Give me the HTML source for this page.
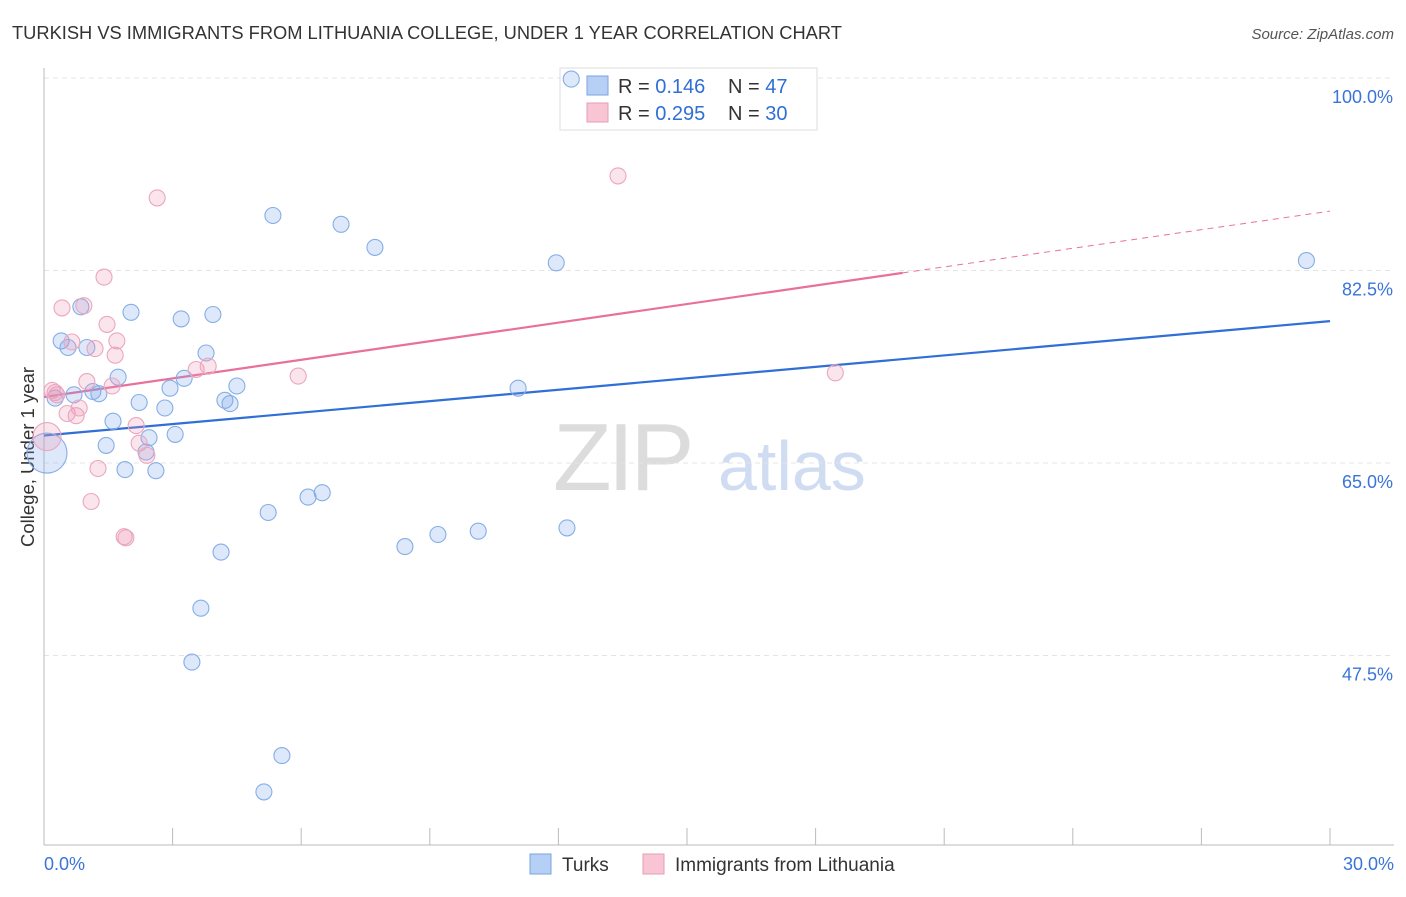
<!DOCTYPE html>
<html><head><meta charset="utf-8"><style>
body{margin:0;background:#fff;font-family:"Liberation Sans",sans-serif}
svg text{font-family:"Liberation Sans",sans-serif}
</style></head><body>
<svg id="chart" width="1406" height="892">
<text x="12" y="39" font-size="18.3" fill="#333">TURKISH VS IMMIGRANTS FROM LITHUANIA COLLEGE, UNDER 1 YEAR CORRELATION CHART</text>
<text x="1394" y="39" font-size="15" fill="#555" font-style="italic" text-anchor="end">Source: ZipAtlas.com</text>
<text x="34" y="457" font-size="18.5" fill="#333" text-anchor="middle" transform="rotate(-90 34 457)">College, Under 1 year</text>
<g><text x="553" y="490" font-size="96" fill="#dcdcdc" font-family="Liberation Serif" letter-spacing="-4">ZIP</text><text x="718" y="490" font-size="70" fill="#cfdcf2">atlas</text></g>
<g id="grid"></g><g id="axes"></g>
<g>
<rect x="560" y="68" width="257" height="62" fill="#fff" stroke="#ddd"/>
<rect x="587" y="76" width="21" height="19" fill="#b5cff5" stroke="#7aa3e0"/>
<rect x="587" y="103" width="21" height="19" fill="#f8c5d5" stroke="#e89ab5"/>
<text x="618" y="93" font-size="20" fill="#333">R = <tspan fill="#2f6fd6">0.146</tspan><tspan x="728">N = </tspan><tspan fill="#2f6fd6">47</tspan></text>
<text x="618" y="120" font-size="20" fill="#333">R = <tspan fill="#2f6fd6">0.295</tspan><tspan x="728">N = </tspan><tspan fill="#2f6fd6">30</tspan></text>
</g>
<g id="lines"></g><g id="pts"></g>
<g>
<rect x="530" y="854" width="21" height="20" fill="#b5cff5" stroke="#7aa3e0"/>
<text x="562" y="871" font-size="19" fill="#333">Turks</text>
<rect x="643" y="854" width="21" height="20" fill="#f8c5d5" stroke="#e89ab5"/>
<text x="675" y="871" font-size="19" fill="#333">Immigrants from Lithuania</text>
</g>
</svg>
<script>
const yTicks=[100,82.5,65,47.5];
const yTickLabels=["100.0%","82.5%","65.0%","47.5%"];
const xTickLabels=["0.0%","30.0%"];
const turksX=[0.07,0.26,0.40,0.56,0.70,0.86,1.00,1.14,1.28,1.45,1.61,1.73,1.89,2.03,2.22,2.38,2.45,2.61,2.82,2.94,3.06,3.20,3.27,3.66,3.45,3.78,3.94,4.13,4.22,4.34,4.50,5.23,5.34,5.55,5.13,6.16,6.49,6.93,7.72,8.42,9.19,10.13,11.06,11.95,12.20,12.30,29.45];
const turksY=[65.9,70.9,76.1,75.5,71.2,79.2,75.5,71.5,71.3,66.6,68.8,72.8,64.4,78.7,70.5,66.0,67.3,64.3,70.0,71.8,67.6,78.1,72.7,51.8,46.9,75.0,78.5,56.9,70.7,70.4,72.0,60.5,87.5,38.4,35.1,61.9,62.3,86.7,84.6,57.4,58.5,58.8,71.8,83.2,59.1,99.9,83.4];
const lithX=[0.07,0.19,0.30,0.42,0.54,0.65,0.75,0.82,0.93,1.00,1.10,1.19,1.26,1.40,1.47,1.59,1.66,1.70,1.87,1.91,2.15,2.22,2.40,2.64,3.55,3.83,5.93,13.39,18.46,0.26];
const lithY=[67.4,71.6,71.2,79.1,69.5,76.0,69.3,70.0,79.3,72.4,61.5,75.4,64.5,81.9,77.6,72.0,74.8,76.1,58.3,58.2,68.4,66.8,65.7,89.1,73.5,73.8,72.9,91.1,73.2,71.4];
const turksTrend=[67.5,77.9];
const lithTrend=[71.0,87.9];
const lithSolidEnd=20.03;
const NS="http://www.w3.org/2000/svg";
const X=v=>44+v/30*1286, Y=v=>78+(100-v)/17.5*192.5;
function mk(p,t,a){const e=document.createElementNS(NS,t);for(const k in a)e.setAttribute(k,a[k]);document.getElementById(p).appendChild(e);return e;}
yTicks.forEach((t,i)=>{
 const l=mk('grid','line',{x1:44,x2:1394,y1:Y(t),y2:Y(t),stroke:'#e4e4e4','stroke-dasharray':'5,4'});
 
 
 const tx=mk('grid','text',{x:1393,y:Y(t)+25,'font-size':18,fill:'#3a74d8','text-anchor':'end'});tx.textContent=yTickLabels[i];
 
 
});
mk('axes','line',{x1:44,x2:44,y1:68,y2:845,stroke:'#bbb'});
mk('axes','line',{x1:44,x2:1394,y1:845,y2:845,stroke:'#bbb'});
for(let i=0;i<=10;i++){const t=mk('axes','line',{x1:X(i*3),x2:X(i*3),y1:828,y2:845,stroke:'#bbb'});
 
 }
[[0,'start',44],[30,'end',1394]].forEach((d,i)=>{const t=mk('axes','text',{x:d[2],y:870,'font-size':18,fill:'#3a74d8','text-anchor':d[1]});t.textContent=xTickLabels[i];
 
 });
function draw(xs,ys,fill,stroke,name,big){xs.forEach((x,i)=>{const c=mk('pts','circle',{cx:X(x),cy:Y(ys[i]),r:i===0?big:8,fill:fill,stroke:stroke,'stroke-width':1.1});
 
 });}
draw(turksX,turksY,'rgba(120,165,235,0.25)','#86aee6','turks-point',20);
draw(lithX,lithY,'rgba(240,150,180,0.25)','#eba6bf','lithuania-point',14);
const tl=mk('lines','line',{x1:X(0),y1:Y(turksTrend[0]),x2:X(30),y2:Y(turksTrend[1]),stroke:'#2f6fd6','stroke-width':2.2});


const ly=x=>lithTrend[0]+(lithTrend[1]-lithTrend[0])*x/30;
const pl=mk('lines','line',{x1:X(0),y1:Y(ly(0)),x2:X(lithSolidEnd),y2:Y(ly(lithSolidEnd)),stroke:'#e8709a','stroke-width':2.2});


const pd=mk('lines','line',{x1:X(lithSolidEnd),y1:Y(ly(lithSolidEnd)),x2:X(30),y2:Y(ly(30)),stroke:'#e8709a','stroke-width':1,'stroke-dasharray':'6,5'});


</script>
</body></html>
